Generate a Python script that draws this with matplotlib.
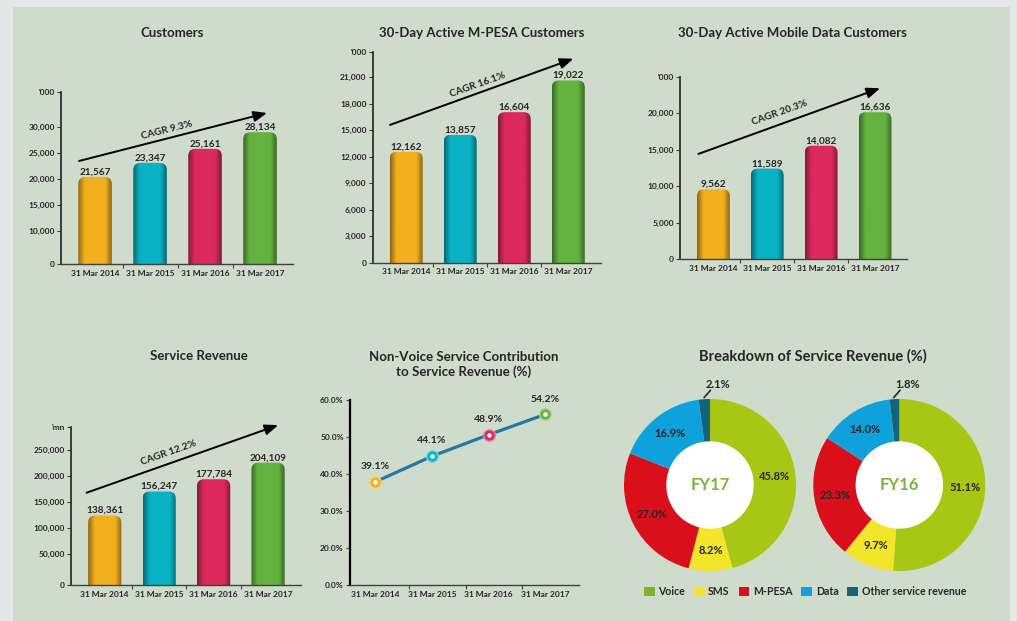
import numpy as np
import matplotlib
matplotlib.use('Agg')
import matplotlib.pyplot as plt
from matplotlib.patches import FancyBboxPatch, Rectangle, Patch, Circle
from matplotlib.colors import to_rgb

plt.rcParams['font.family'] = ['Lato', 'DejaVu Sans']
plt.rcParams['font.weight'] = 'bold'

# ---- data ----
years = ['31 Mar 2014', '31 Mar 2015', '31 Mar 2016', '31 Mar 2017']

# printed labels and the heights the bars are actually drawn at on their axes
customers = [21567, 23347, 25161, 28134]
customers_drawn = [20400, 23100, 25800, 29000]
mpesa = [12162, 13857, 16604, 19022]
mpesa_drawn = [12570, 14500, 17060, 20660]
data_customers = [9562, 11589, 14082, 16636]
data_customers_drawn = [9590, 12420, 15550, 20140]
revenue = [138361, 156247, 177784, 204109]
revenue_drawn = [123600, 169900, 193600, 225600]

non_voice = [39.1, 44.1, 48.9, 54.2]
non_voice_drawn = [37.9, 44.8, 50.6, 56.1]

cagr = ['CAGR 9.3%', 'CAGR 16.1%', 'CAGR 20.3%', 'CAGR 12.2%']

segments = ['Voice', 'SMS', 'M-PESA', 'Data', 'Other service revenue']
fy17 = [45.8, 8.2, 27.0, 16.9, 2.1]
fy16 = [51.1, 9.7, 23.3, 14.0, 1.8]

# ---- styles ----
TXT = '#262626'
PANEL = '#cfdbcb'
bar_colors = ['#f2b01e', '#0bb2c4', '#dc2a5e', '#64b33f']
pie_colors = ['#a8c614', '#f2e52a', '#d9101c', '#0ea1dc', '#136478']
legend_colors = ['#78b42c', '#f2e52a', '#d9101c', '#0ea1dc', '#136478']

W, H = 1017, 621
fig = plt.figure(figsize=(W / 100, H / 100), dpi=100)
fig.patch.set_facecolor('#e6e7e9')
fig.patches.append(Rectangle((13 / W, 0), (1010 - 13) / W, (H - 7) / H,
                             transform=fig.transFigure, facecolor=PANEL,
                             edgecolor='none', zorder=-5))


def px_axes(left, top, right, bottom):
    return fig.add_axes([left / W, 1 - bottom / H, (right - left) / W, (bottom - top) / H])


def px_text(x, y, s, **kw):
    fig.text(x / W, 1 - y / H, s, ha='center', va='center', color=TXT, **kw)


def shade(color, n=64):
    t = np.linspace(0, 1, n)
    k = 0.58 + 0.42 * np.clip(np.sin(np.pi * t) * 1.7, 0, 1)
    rgb = np.array(to_rgb(color))
    return (rgb[None, :] * k[:, None])[None, :, :]


def style_axes(ax, xlim):
    ax.set_facecolor('none')
    for s in ['top', 'right']:
        ax.spines[s].set_visible(False)
    ax.spines['left'].set_color('#303030')
    ax.spines['left'].set_linewidth(1.3)
    ax.spines['bottom'].set_color('#404040')
    ax.spines['bottom'].set_linewidth(1.0)
    x = np.arange(len(years))
    ax.set_xticks(x, years)
    ax.set_xticks(x[:-1] + 0.5, minor=True)
    ax.tick_params(axis='x', which='major', length=0, pad=4, labelsize=6, labelcolor=TXT)
    ax.tick_params(axis='x', which='minor', length=3, width=0.8, color='#404040')
    ax.tick_params(axis='y', length=3, width=0.8, pad=1.5, labelsize=6,
                   labelcolor=TXT, color='#404040')
    ax.set_xlim(*xlim)


def bar_chart(box, title, title_xy, drawn, values, ylim, ticks, ticklabels, label, arrow, text_xy, angle):
    ax = px_axes(*box)
    xlim = (-0.62, 3.6)
    style_axes(ax, xlim)
    ax.set_ylim(*ylim)
    bb = ax.get_window_extent()
    xpp = (xlim[1] - xlim[0]) / bb.width
    ypp = (ylim[1] - ylim[0]) / bb.height
    w = 0.61
    r = 7 * xpp
    y0 = ylim[0] - 20 * ypp
    for xi, h, v, c in zip(range(len(years)), drawn, values, bar_colors):
        patch = FancyBboxPatch((xi - w / 2, y0), w, h - y0,
                               boxstyle=f'round,pad=0,rounding_size={r}',
                               mutation_aspect=ypp / xpp,
                               facecolor='none', edgecolor='none')
        ax.add_patch(patch)
        im = ax.imshow(shade(c), extent=(xi - w / 2, xi + w / 2, y0, h),
                       aspect='auto', interpolation='bilinear', zorder=2)
        im.set_clip_path(patch)
        ax.annotate(f'{v:,}', (xi, h), xytext=(0, 0.3), textcoords='offset points',
                    ha='center', va='bottom', fontsize=7.2, color=TXT)
    ax.set_xlim(*xlim)
    ax.set_ylim(*ylim)
    ax.set_yticks(ticks, ticklabels)
    ax.annotate('', xy=arrow[1], xytext=arrow[0], xycoords='axes fraction',
                textcoords='axes fraction', annotation_clip=False,
                arrowprops=dict(arrowstyle='-|>,head_length=0.8,head_width=0.32',
                                lw=1.4, color='black', shrinkA=0, shrinkB=0))
    ax.text(text_xy[0], text_xy[1], label, transform=ax.transAxes, rotation=angle,
            rotation_mode='anchor', ha='center', va='center', fontsize=7.3, color=TXT)
    px_text(*title_xy, title, fontsize=9.5)
    return ax


bar_chart((61, 92, 293, 264), 'Customers', (172, 33), customers_drawn, customers,
          (3650, 36730), [3650, 10000, 15000, 20000, 25000, 30000, 36730],
          ['0', '10,000', '15,000', '20,000', '25,000', '30,000', "'000"],
          cagr[0], ((0.078, 0.599), (0.888, 0.878)), (0.457, 0.779), 14.0)

bar_chart((372.7, 52, 600.7, 262.7), '30-Day Active M-PESA Customers', (482, 33),
          mpesa_drawn, mpesa, (0, 23875),
          [0, 3000, 6000, 9000, 12000, 15000, 18000, 21000, 23875],
          ['0', '3,000', '6,000', '9,000', '12,000', '15,000', '18,000', '21,000', "'000"],
          cagr[1], ((0.076, 0.654), (0.880, 0.968)), (0.462, 0.843), 19.5)

bar_chart((680, 76.7, 907.3, 259.3), '30-Day Active Mobile Data Customers', (792.7, 33),
          data_customers_drawn, data_customers, (0, 25000),
          [0, 5000, 10000, 15000, 20000, 25000],
          ['0', '5,000', '10,000', '15,000', '20,000', "'000"],
          cagr[2], ((0.081, 0.577), (0.880, 0.937)), (0.44, 0.80), 19.6)

bar_chart((71, 426.7, 300.7, 585), 'Service Revenue', (199, 355.7),
          revenue_drawn, revenue, (-10370, 294900),
          [-10370, 50000, 100000, 150000, 200000, 250000, 294900],
          ['0', '50,000', '100,000', '150,000', '200,000', '250,000', "'mn"],
          cagr[3], ((0.068, 0.583), (0.902, 1.01)), (0.424, 0.832), 19.5)

# ---- non-voice contribution line ----
ax = px_axes(350, 400, 579, 585)
style_axes(ax, (-0.45, 3.6))
ax.spines['left'].set_color('black')
ax.spines['left'].set_linewidth(1.6)
ax.set_xticks(np.arange(len(years))[:-1] + 0.6, minor=True)
ax.set_ylim(10, 60)
ax.set_yticks([10, 20, 30, 40, 50, 60], ['0.0%', '20.0%', '30.0%', '40.0%', '50.0%', '60.0%'])
xs = np.arange(len(years))
ax.plot(xs, non_voice_drawn, color='#2378a6', lw=2.3, zorder=2, solid_capstyle='round')
for xi, yv, v, c in zip(xs, non_voice_drawn, non_voice, bar_colors):
    ax.scatter([xi], [yv], s=70, color=c, edgecolors=tuple(0.45 + 0.55 * np.array(to_rgb(c))),
               linewidths=1.0, zorder=3, clip_on=False)
    ax.scatter([xi], [yv], s=5, color='white', zorder=4, clip_on=False)
    ax.annotate(f'{v}%', (xi, yv), xytext=(0, 11), textcoords='offset points',
                ha='center', va='center', fontsize=7.5, color=TXT)
px_text(463.3, 356.7, 'Non-Voice Service Contribution', fontsize=9.5)
px_text(463.3, 371.7, 'to Service Revenue (%)', fontsize=9.5)

# ---- donuts ----
R = 86
for cx, vals, name in [(710, fy17, 'FY17'), (899.3, fy16, 'FY16')]:
    ax = px_axes(cx - 100, 385, cx + 100, 585)
    ax.set_facecolor('none')
    ax.pie(vals, colors=pie_colors, startangle=90, counterclock=False, radius=1,
           wedgeprops=dict(width=0.5, edgecolor='none'))
    ax.add_patch(Circle((0, 0), 0.5, color='white', zorder=3))
    ax.text(0, 0, name, ha='center', va='center', fontsize=12, color='#7ab539', zorder=4)
    vals = np.array(vals)
    mids = np.radians(90 - 3.6 * (np.cumsum(vals) - vals / 2))
    for i, (v, m) in enumerate(zip(vals, mids)):
        if i < len(vals) - 1:
            ax.text(0.76 * np.cos(m), 0.76 * np.sin(m), f'{v:.1f}%', ha='center',
                    va='center', fontsize=8, color=TXT, zorder=4)
        else:
            a2 = m - np.radians(4)
            ax.plot([1.02 * np.cos(m), 1.10 * np.cos(a2)], [1.02 * np.sin(m), 1.10 * np.sin(a2)],
                    color=TXT, lw=1.2, clip_on=False)
            ax.text(1.17 * np.cos(np.radians(85.3)), 1.17 * np.sin(np.radians(85.3)),
                    f'{v:.1f}%', ha='center', va='center', fontsize=8, color=TXT)
    lim = 100 / R
    ax.set_xlim(-lim, lim)
    ax.set_ylim(-lim, lim)
    ax.set_aspect('equal')
    ax.axis('off')

px_text(813.3, 356, 'Breakdown of Service Revenue (%)', fontsize=10.5)

handles = [Patch(facecolor=c, edgecolor='none', label=s) for c, s in zip(legend_colors, segments)]
fig.legend(handles=handles, loc='center', bbox_to_anchor=(805 / W, 1 - 591.7 / H), ncol=5,
           frameon=False, fontsize=7.6, handlelength=1.0, handleheight=1.0,
           handletextpad=0.35, columnspacing=0.85, labelcolor=TXT)

fig.savefig('out.png', dpi=100, facecolor=fig.get_facecolor())
